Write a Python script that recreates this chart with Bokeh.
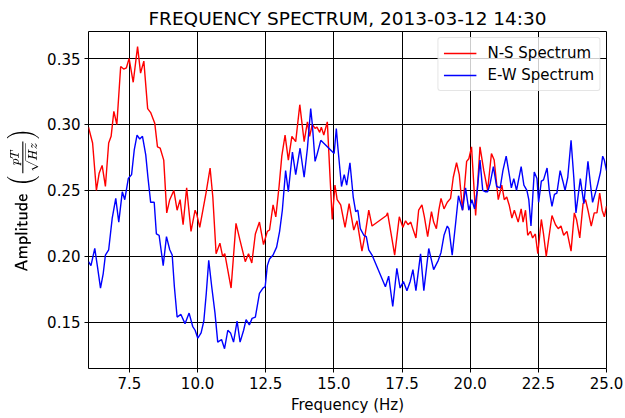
from bokeh.plotting import figure
from bokeh.models import FixedTicker, NumeralTickFormatter, Range1d, Legend, LegendItem
from bokeh.embed import file_html
from bokeh.resources import INLINE

title_text = "FREQUENCY SPECTRUM, 2013-03-12 14:30"

freq_ns = [6.00, 6.15, 6.29, 6.39, 6.50, 6.62, 6.74, 6.83, 6.93, 7.04, 7.18, 7.29, 7.39, 7.49, 7.64, 7.80,
           7.91, 8.03, 8.17, 8.28, 8.43, 8.53, 8.63, 8.76, 8.87, 8.98, 9.13, 9.25, 9.36, 9.47, 9.60, 9.76,
           9.91, 9.97, 10.08, 10.31, 10.46, 10.56, 10.68, 10.82, 10.92, 11.00, 11.23, 11.41, 11.56, 11.75,
           11.87, 11.99, 12.12, 12.27, 12.42, 12.56, 12.64, 12.77, 12.87, 12.99, 13.09, 13.21, 13.33, 13.46,
           13.60, 13.75, 13.91, 14.03, 14.11, 14.21, 14.31, 14.38, 14.48, 14.54, 14.63, 14.76, 14.86, 14.94,
           15.04, 15.12, 15.25, 15.41, 15.56, 15.73, 15.85, 16.03, 16.15, 16.28, 16.40, 16.93, 16.97, 17.10,
           17.23, 17.40, 17.53, 17.63, 17.72, 17.82, 17.88, 18.01, 18.11, 18.23, 18.32, 18.44, 18.58, 18.66,
           18.76, 18.85, 18.93, 19.04, 19.16, 19.28, 19.38, 19.50, 19.60, 19.72, 19.87, 19.95, 20.05, 20.20,
           20.36, 20.50, 20.64, 20.78, 20.88, 21.03, 21.16, 21.25, 21.34, 21.43, 21.53, 21.62, 21.76, 21.87,
           21.94, 22.03, 22.11, 22.21, 22.29, 22.39, 22.48, 22.61, 22.69, 22.79, 22.87, 23.00, 23.13, 23.23,
           23.33, 23.43, 23.55, 23.70, 23.82, 23.90, 24.02, 24.14, 24.23, 24.32, 24.44, 24.55, 24.65, 24.75,
           24.84, 24.92, 25.00]
amp_ns = [0.298, 0.286, 0.250, 0.263, 0.269, 0.253, 0.286, 0.291, 0.310, 0.300, 0.344, 0.342, 0.343, 0.350, 0.332, 0.359,
          0.339, 0.348, 0.312, 0.309, 0.301, 0.283, 0.282, 0.273, 0.233, 0.243, 0.250, 0.235, 0.243, 0.224, 0.252, 0.219,
          0.235, 0.232, 0.222, 0.248, 0.267, 0.245, 0.202, 0.210, 0.200, 0.202, 0.176, 0.225, 0.212, 0.196,
          0.202, 0.195, 0.217, 0.226, 0.209, 0.219, 0.220, 0.239, 0.230, 0.253, 0.276, 0.292, 0.273, 0.291,
          0.287, 0.315, 0.287, 0.302, 0.291, 0.300, 0.297, 0.298, 0.294, 0.298, 0.292, 0.302, 0.260, 0.228,
          0.254, 0.243, 0.239, 0.222, 0.240, 0.220, 0.227, 0.204, 0.217, 0.235, 0.223, 0.231, 0.233, 0.217,
          0.201, 0.230, 0.222, 0.227, 0.224, 0.226, 0.222, 0.214, 0.235, 0.239, 0.230, 0.215, 0.234, 0.226,
          0.221, 0.235, 0.244, 0.236, 0.241, 0.244, 0.260, 0.271, 0.262, 0.235, 0.272, 0.274, 0.283, 0.231,
          0.283, 0.265, 0.250, 0.278, 0.273, 0.243, 0.254, 0.243, 0.245, 0.239, 0.229, 0.235, 0.226, 0.236,
          0.226, 0.235, 0.216, 0.219, 0.214, 0.217, 0.202, 0.228, 0.217, 0.200, 0.212, 0.231, 0.224, 0.221,
          0.223, 0.216, 0.219, 0.204, 0.233, 0.228, 0.214, 0.240, 0.243, 0.235, 0.223, 0.233, 0.233, 0.248,
          0.235, 0.230, 0.238]

freq_ew = [6.00, 6.09, 6.23, 6.33, 6.44, 6.54, 6.62, 6.74, 6.87, 7.00, 7.11, 7.24, 7.33, 7.46, 7.58, 7.68,
           7.78, 7.88, 7.98, 8.10, 8.18, 8.28, 8.41, 8.49, 8.59, 8.74, 8.86, 8.98, 9.07, 9.15, 9.25, 9.39,
           9.54, 9.69, 9.82, 9.91, 10.01, 10.13, 10.23, 10.32, 10.41, 10.52, 10.64, 10.74, 10.88, 10.99,
           11.11, 11.21, 11.32, 11.45, 11.56, 11.69, 11.78, 11.90, 12.00, 12.12, 12.27, 12.40, 12.48, 12.56,
           12.64, 12.77, 12.90, 13.01, 13.11, 13.23, 13.33, 13.48, 13.60, 13.76, 13.91, 14.03, 14.15, 14.21,
           14.31, 14.38, 14.52, 15.01, 15.09, 15.15, 15.28, 15.38, 15.47, 15.59, 15.71, 15.80, 15.88, 15.97,
           16.10, 16.19, 16.28, 16.40, 16.89, 17.01, 17.16, 17.31, 17.43, 17.55, 17.68, 17.80, 17.90, 18.01,
           18.18, 18.30, 18.48, 18.66, 18.83, 18.93, 19.04, 19.16, 19.22, 19.34, 19.46, 19.57, 19.72, 19.83,
           19.95, 20.06, 20.16, 20.26, 20.36, 20.46, 20.55, 20.64, 20.73, 20.85, 20.97, 21.10, 21.20, 21.32,
           21.45, 21.51, 21.60, 21.70, 21.87, 21.97, 22.08, 22.15, 22.23, 22.35, 22.45, 22.51, 22.61, 22.69,
           22.82, 22.90, 23.00, 23.09, 23.18, 23.30, 23.40, 23.48, 23.58, 23.70, 23.80, 23.88, 24.04, 24.10,
           24.17, 24.32, 24.41, 24.49, 24.59, 24.68, 24.78, 24.86, 24.92, 25.00]
amp_ew = [0.196, 0.193, 0.206, 0.192, 0.176, 0.187, 0.201, 0.205, 0.229, 0.244, 0.226, 0.249, 0.243, 0.259, 0.262, 0.281,
          0.292, 0.289, 0.291, 0.277, 0.260, 0.241, 0.241, 0.217, 0.216, 0.193, 0.215, 0.205, 0.201, 0.177, 0.154, 0.156,
          0.149, 0.157, 0.147, 0.144, 0.138, 0.142, 0.151, 0.172, 0.197, 0.177, 0.157, 0.135, 0.137, 0.130,
          0.144, 0.142, 0.135, 0.151, 0.135, 0.144, 0.152, 0.148, 0.153, 0.154, 0.172, 0.176, 0.177, 0.193,
          0.198, 0.201, 0.207, 0.219, 0.235, 0.265, 0.249, 0.279, 0.262, 0.282, 0.260, 0.282, 0.312, 0.300,
          0.272, 0.277, 0.288, 0.278, 0.297, 0.282, 0.253, 0.262, 0.254, 0.271, 0.245, 0.234, 0.235, 0.221,
          0.216, 0.215, 0.205, 0.201, 0.177, 0.185, 0.162, 0.191, 0.176, 0.181, 0.174, 0.181, 0.190, 0.174,
          0.202, 0.174, 0.206, 0.190, 0.197, 0.203, 0.216, 0.223, 0.221, 0.201, 0.224, 0.246, 0.235, 0.252,
          0.235, 0.243, 0.236, 0.250, 0.273, 0.250, 0.249, 0.249, 0.255, 0.268, 0.253, 0.252, 0.265, 0.276,
          0.260, 0.252, 0.259, 0.250, 0.268, 0.254, 0.250, 0.243, 0.223, 0.264, 0.259, 0.241, 0.257, 0.258,
          0.267, 0.250, 0.238, 0.247, 0.248, 0.265, 0.257, 0.250, 0.260, 0.288, 0.260, 0.233, 0.259, 0.250,
          0.240, 0.272, 0.255, 0.241, 0.248, 0.255, 0.264, 0.276, 0.273, 0.265]

x_ticks = [7.5, 10.0, 12.5, 15.0, 17.5, 20.0, 22.5, 25.0]
y_ticks = [0.15, 0.20, 0.25, 0.30, 0.35]
series_labels = ["N-S Spectrum", "E-W Spectrum"]

FONT = "DejaVu Sans"
FS = "15px"

p = figure(width=625, height=418, output_backend="svg", toolbar_location=None,
           x_range=Range1d(6.0, 25.0), y_range=Range1d(0.115, 0.3705),
           min_border_left=88, min_border_right=19, min_border_top=31, min_border_bottom=50)

p.title.text = title_text
p.title.align = "center"
p.title.text_font = FONT
p.title.text_font_size = "18.5px"
p.title.text_font_style = "normal"
p.title.text_color = "black"
p.title.offset = 0
p.title.standoff = 5

p.background_fill_color = "white"
p.border_fill_color = "white"
p.outline_line_color = "black"
p.outline_line_width = 1

for ax in (p.xaxis[0], p.yaxis[0]):
    ax.axis_line_color = None
    ax.major_tick_out = 4
    ax.major_tick_in = 0
    ax.minor_tick_line_color = None
    ax.major_tick_line_color = "black"
    ax.major_label_text_font = FONT
    ax.major_label_text_font_size = FS
    ax.major_label_text_color = "black"
    ax.axis_label_text_font = FONT
    ax.axis_label_text_font_size = FS
    ax.axis_label_text_font_style = "normal"
    ax.axis_label_text_color = "black"

p.xaxis.ticker = FixedTicker(ticks=x_ticks)
p.yaxis.ticker = FixedTicker(ticks=y_ticks)
p.xaxis.formatter = NumeralTickFormatter(format="0.0")
p.yaxis.formatter = NumeralTickFormatter(format="0.00")
p.xaxis.major_label_standoff = 4
p.yaxis.major_label_standoff = 4
p.xaxis.axis_label = "Frequency (Hz)"
p.xaxis.axis_label_standoff = 4
p.yaxis.axis_label = r"$$\mathsf{Amplitude}\ \left(\tfrac{pT}{\sqrt{Hz}}\right)$$"
p.yaxis.axis_label_text_font_size = "13.5px"
p.yaxis.axis_label_standoff = 5

p.xgrid.grid_line_color = "black"
p.ygrid.grid_line_color = "black"
p.xgrid.grid_line_width = 1
p.ygrid.grid_line_width = 1

r_ns = p.line(freq_ns, amp_ns, line_color="#ff0000", line_width=1.4)
r_ew = p.line(freq_ew, amp_ew, line_color="#0000ff", line_width=1.4)

legend = Legend(items=[LegendItem(label=series_labels[0], renderers=[r_ns]),
                       LegendItem(label=series_labels[1], renderers=[r_ew])],
                location="top_right")
legend.margin = 6
legend.padding = 5
legend.spacing = 2
legend.label_height = 20
legend.glyph_width = 33
legend.glyph_height = 20
legend.label_standoff = 11
legend.label_text_font = FONT
legend.label_text_font_size = FS
legend.label_text_color = "black"
legend.border_line_color = "#cccccc"
legend.border_line_width = 1
legend.background_fill_alpha = 0.8
legend.border_radius = 3
p.add_layout(legend)

open("out.html", "w").write(file_html(p, INLINE))
